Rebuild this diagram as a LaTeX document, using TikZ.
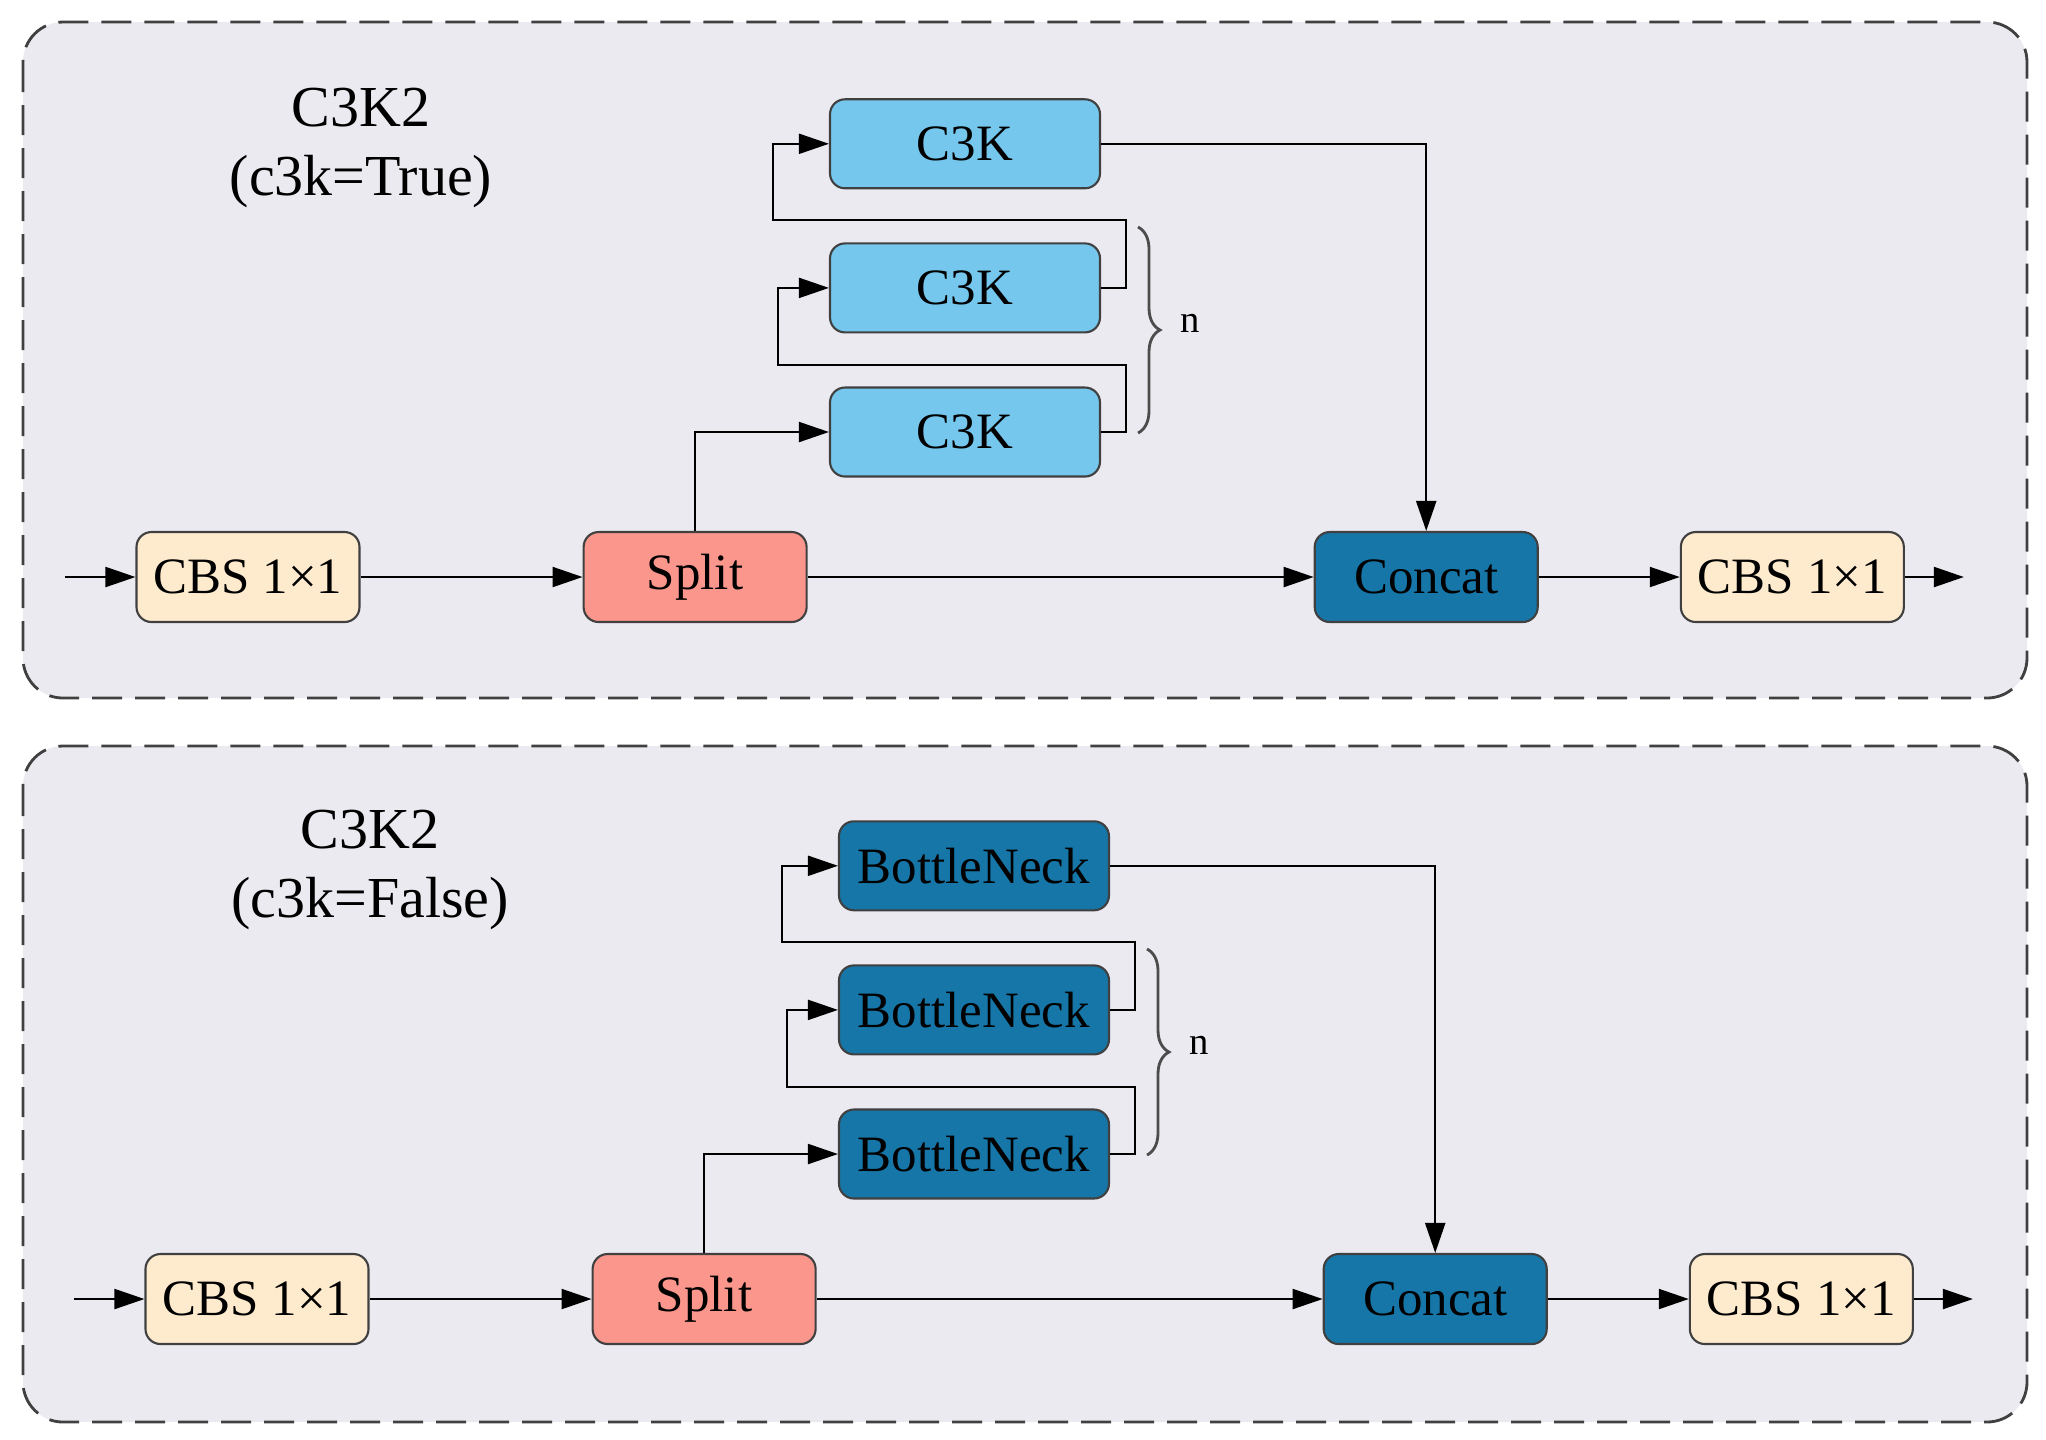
\documentclass[tikz,border=0pt]{standalone}
\usepackage{fontspec}
\setmainfont{Liberation Serif}
\usetikzlibrary{arrows.meta,decorations.pathreplacing,positioning}
\definecolor{PanelGray}{RGB}{236,234,241}
\definecolor{CbsCream}{RGB}{254,235,206}
\definecolor{SplitRed}{RGB}{250,150,140}
\definecolor{C3kBlue}{RGB}{117,199,238}
\definecolor{DeepBlue}{RGB}{22,118,168}

\begin{document}
\begin{tikzpicture}[
  panel/.style={draw=black!75,dash pattern=on 0.3cm off 0.13cm,line width=0.8pt,fill=PanelGray,rounded corners=0.4cm},
  blk/.style={draw=black!75,line width=0.6pt,rounded corners=0.15cm,minimum height=0.9cm,inner sep=0pt,font=\fontsize{14.5}{17}\selectfont},
  cbs/.style={blk,fill=CbsCream,minimum width=2.23cm},
  splitbox/.style={blk,fill=SplitRed,minimum width=2.23cm},
  catbox/.style={blk,fill=DeepBlue,minimum width=2.23cm},
  c3kbox/.style={blk,fill=C3kBlue,minimum width=2.7cm,minimum height=0.89cm},
  bnbox/.style={blk,fill=DeepBlue,minimum width=2.7cm,minimum height=0.89cm},
  arr/.style={-{Triangle[length=0.3cm,width=0.2cm]},line width=0.6pt},
  brc/.style={decorate,decoration={brace,amplitude=0.22cm},draw=black!70,line width=0.8pt},
  ttl/.style={align=center,font=\fontsize{16.5}{19.6}\selectfont}
]
  \useasboundingbox (0,0) rectangle (20.46,-14.39);

  % panels
  \draw[panel] (0.23,-0.22) rectangle (20.27,-6.98);
  \draw[panel] (0.23,-7.46) rectangle (20.27,-14.22);

  % c3k=True
  \node[ttl] (t-title) at (3.61,-1.48) {C3K2\\(c3k=True)};
  \coordinate (t-in) at (0.65,-5.77);
  \node[cbs] (t-cbs1) at (2.48,-5.77) {CBS 1×1};
  \node[splitbox,right=2.22cm of t-cbs1] (t-split) {Split};
  \node[catbox,right=5.06cm of t-split] (t-concat) {Concat};
  \node[cbs,right=1.41cm of t-concat] (t-cbs2) {CBS 1×1};
  \coordinate[right=0.59cm of t-cbs2] (t-out);
  \node[c3kbox] (t-c3k3) at (9.65,-4.32) {C3K};
  \node[c3kbox,above=0.53cm of t-c3k3] (t-c3k2) {C3K};
  \node[c3kbox,above=0.53cm of t-c3k2] (t-c3k1) {C3K};

  \draw[arr] (t-in) -- (t-cbs1);
  \draw[arr] (t-cbs1) -- (t-split);
  \draw[arr] (t-split) -- (t-concat);
  \draw[arr] (t-concat) -- (t-cbs2);
  \draw[arr] (t-cbs2) -- (t-out);
  \draw[arr] (t-split.north) |- (t-c3k3.west);
  \draw[arr] (t-c3k3.east) -- ++(0.25,0) -- ++(0,0.67) -- ++(-3.48,0) |- (t-c3k2.west);
  \draw[arr] (t-c3k2.east) -- ++(0.25,0) -- ++(0,0.68) -- ++(-3.53,0) |- (t-c3k1.west);
  \draw[arr] (t-c3k1.east) -| (t-concat.north);
  \draw[brc] (11.38,-2.27) -- (11.38,-4.33);
  \node[font=\fontsize{11}{13}\selectfont] (t-n) at (11.9,-3.23) {n};

  % c3k=False
  \begin{scope}[shift={(0.09,-7.22)}]
    \node[ttl] (b-title) at (3.61,-1.48) {C3K2\\(c3k=False)};
    \coordinate (b-in) at (0.65,-5.77);
    \node[cbs] (b-cbs1) at (2.48,-5.77) {CBS 1×1};
    \node[splitbox,right=2.22cm of b-cbs1] (b-split) {Split};
    \node[catbox,right=5.06cm of b-split] (b-concat) {Concat};
    \node[cbs,right=1.41cm of b-concat] (b-cbs2) {CBS 1×1};
    \coordinate[right=0.59cm of b-cbs2] (b-out);
    \node[bnbox] (b-bn3) at (9.65,-4.32) {BottleNeck};
    \node[bnbox,above=0.53cm of b-bn3] (b-bn2) {BottleNeck};
    \node[bnbox,above=0.53cm of b-bn2] (b-bn1) {BottleNeck};

    \draw[arr] (b-in) -- (b-cbs1);
    \draw[arr] (b-cbs1) -- (b-split);
    \draw[arr] (b-split) -- (b-concat);
    \draw[arr] (b-concat) -- (b-cbs2);
    \draw[arr] (b-cbs2) -- (b-out);
    \draw[arr] (b-split.north) |- (b-bn3.west);
    \draw[arr] (b-bn3.east) -- ++(0.25,0) -- ++(0,0.67) -- ++(-3.48,0) |- (b-bn2.west);
    \draw[arr] (b-bn2.east) -- ++(0.25,0) -- ++(0,0.68) -- ++(-3.53,0) |- (b-bn1.west);
    \draw[arr] (b-bn1.east) -| (b-concat.north);
    \draw[brc] (11.38,-2.27) -- (11.38,-4.33);
    \node[font=\fontsize{11}{13}\selectfont] (b-n) at (11.9,-3.23) {n};
  \end{scope}
\end{tikzpicture}
\end{document}
